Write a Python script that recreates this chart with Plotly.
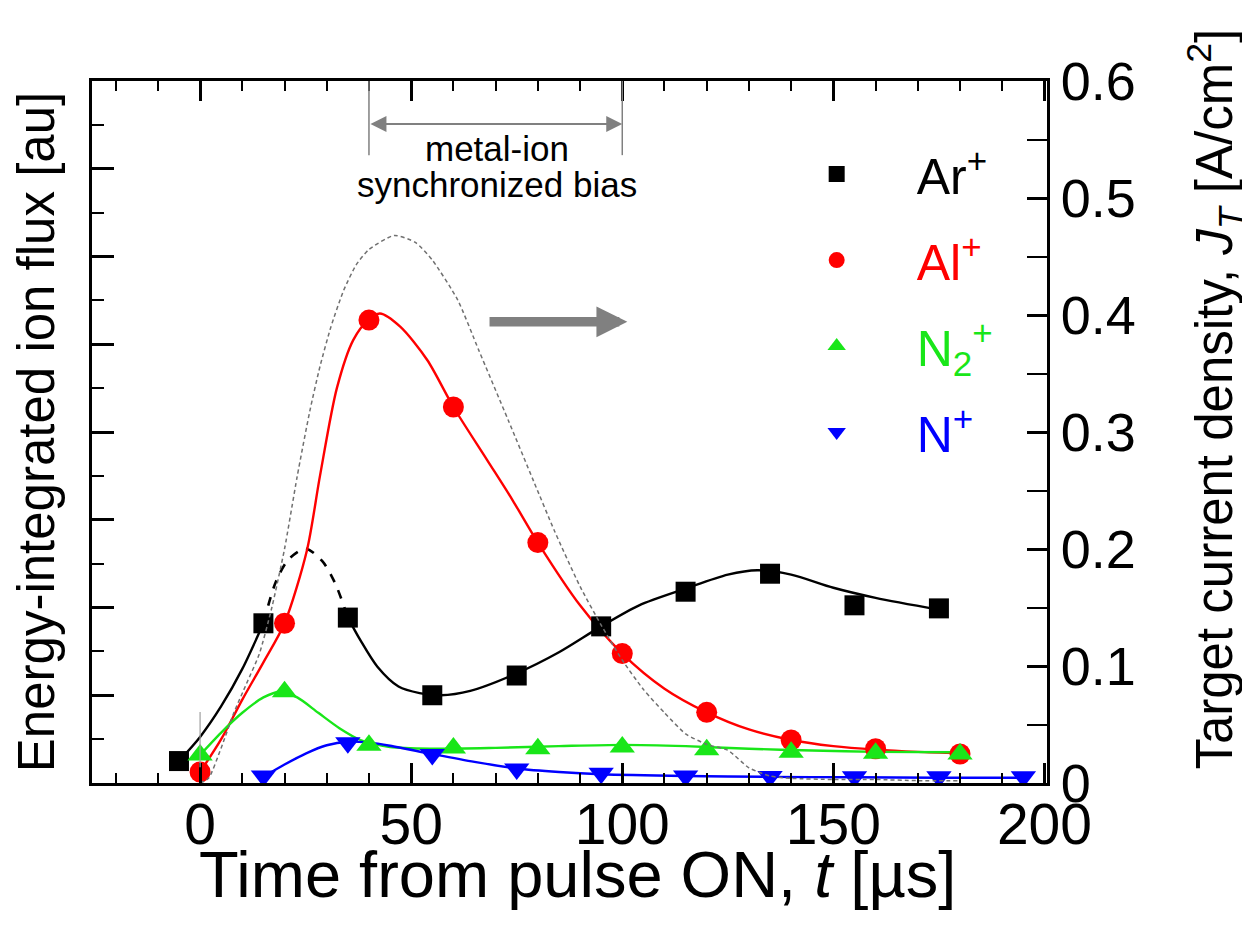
import plotly.graph_objects as go

# ---------------- data ----------------
# measured points (left axis, arbitrary units; 1 unit = one minor tick)
t_ar = [-5, 15, 35, 55, 75, 95, 115, 135, 155, 175]
ar_flux = [0.5, 3.64, 3.77, 2.0, 2.45, 3.57, 4.36, 4.77, 4.05, 3.98]

t_al = [0, 20, 40, 60, 80, 100, 120, 140, 160, 180]
al_flux = [0.25, 3.64, 10.55, 8.57, 5.48, 2.95, 1.61, 0.98, 0.78, 0.66]

t_n2 = [0, 20, 40, 60, 80, 100, 120, 140, 160, 180]
n2_flux = [0.64, 2.08, 0.86, 0.8, 0.78, 0.82, 0.76, 0.7, 0.68, 0.66]

t_n = [15, 35, 55, 75, 95, 115, 135, 155, 175, 195]
n_flux = [0.16, 0.92, 0.65, 0.32, 0.22, 0.16, 0.15, 0.14, 0.14, 0.14]

# fitted guide curves
t_ar_fit_a = [-5, 0, 5, 10, 15]
ar_fit_a = [0.5, 1.05, 1.75, 2.6, 3.64]
t_ar_fit_dash = [15, 18, 21, 25, 29, 32, 35]
ar_fit_dash = [3.64, 4.6, 5.1, 5.34, 5.05, 4.55, 3.77]
t_ar_fit_b = [35, 38, 42, 47, 52, 57, 64, 75, 85, 95, 104, 115, 125, 132, 140, 150, 160, 175]
ar_fit_b = [3.77, 3.25, 2.65, 2.2, 2.05, 2.0, 2.1, 2.5, 2.98, 3.57, 4.05, 4.43, 4.75, 4.85, 4.75, 4.45, 4.22, 3.95]

t_al_fit = [0, 5, 10, 15, 20, 25.3, 28.4, 32.4, 36.3, 39.8, 42.6, 47.4, 53.8, 60, 68, 74, 80, 90, 100,
            110, 120, 130, 140, 150, 160, 170, 180]
al_fit = [0.25, 1.0, 1.9, 2.75, 3.64, 5.3, 7.0, 9.0, 10.1, 10.55, 10.7, 10.4, 9.64, 8.57, 7.36, 6.45, 5.48,
          4.05, 2.95, 2.15, 1.61, 1.22, 0.98, 0.84, 0.76, 0.71, 0.68]

t_n2_fit = [0, 5, 10, 15, 19, 23, 28, 33, 38, 45, 55, 70, 85, 100, 115, 130, 145, 160, 180]
n2_fit = [0.64, 1.15, 1.6, 1.95, 2.08, 1.95, 1.6, 1.25, 0.98, 0.82, 0.78, 0.8, 0.84, 0.87, 0.84, 0.78, 0.74, 0.71, 0.7]

t_n_fit = [15, 20, 25, 30, 35, 40, 45, 55, 65, 75, 85, 95, 115, 135, 155, 175, 195]
n_fit = [0.14, 0.42, 0.67, 0.86, 0.94, 0.92, 0.85, 0.66, 0.48, 0.33, 0.25, 0.2, 0.16, 0.14, 0.13, 0.12, 0.12]

# target current density (right axis, A/cm^2)
t_jt = [0, 2, 5, 8, 11, 14, 17, 20, 23, 26, 28.4, 31, 34, 37, 40, 46, 51, 55, 61, 66, 73, 79, 84,
        90, 95, 100, 105, 110, 115, 120, 125, 130, 135, 140, 150, 160, 170, 180]
jt = [0.0, 0.004, 0.03, 0.06, 0.085, 0.11, 0.15, 0.2, 0.262, 0.318, 0.356, 0.39, 0.421, 0.443, 0.456,
      0.468, 0.462, 0.447, 0.413, 0.37, 0.31, 0.258, 0.215, 0.168, 0.135, 0.105, 0.08, 0.06, 0.042,
      0.033, 0.028, 0.013, 0.006, 0.004, 0.003, 0.003, 0.002, 0.002]

# annotation anchors
bias_window = [40, 100]          # metal-ion synchronized bias interval (µs)
big_arrow_t = [68.2, 101.2]      # arrow pointing to the right-hand axis
pulse_on = 0                     # pulse start marker

FONT = "Liberation Sans, Arial, sans-serif"
BLACK = "#000000"
RED = "#ff0000"
GREEN = "#19e619"
BLUE = "#0000ff"
GRAY = "#808080"

fig = go.Figure()

# current density trace (right axis)
fig.add_trace(go.Scatter(x=t_jt, y=jt, yaxis="y2", mode="lines", showlegend=False,
                         line=dict(color="#707070", width=1.5, dash="4px,3px", shape="spline", smoothing=0.6)))

# guide curves
def fit(x, y, color, dash="solid", width=2.4):
    fig.add_trace(go.Scatter(x=x, y=y, mode="lines", showlegend=False, hoverinfo="skip",
                             line=dict(color=color, width=width, dash=dash, shape="spline", smoothing=0.8)))

fit(t_ar_fit_a, ar_fit_a, BLACK)
fit(t_ar_fit_dash, ar_fit_dash, BLACK, dash="dash", width=2.6)
fit(t_ar_fit_b, ar_fit_b, BLACK)
fit(t_al_fit, al_fit, RED)
fit(t_n2_fit, n2_fit, GREEN)
fit(t_n_fit, n_fit, BLUE)

# measured markers
fig.add_trace(go.Scatter(x=t_ar, y=ar_flux, mode="markers", name="Ar<sup>+</sup>", legendgroup="a",
                         marker=dict(symbol="square", size=20, color=BLACK)))
fig.add_trace(go.Scatter(x=t_al, y=al_flux, mode="markers",
                         name='<span style="color:#ff0000">Al<sup>+</sup></span>', legendgroup="b",
                         marker=dict(symbol="circle", size=21, color=RED)))
fig.add_trace(go.Scatter(x=t_n2, y=n2_flux, mode="markers",
                         name='<span style="color:#19e619">N<sub>2</sub><sup>+</sup></span>', legendgroup="c",
                         marker=dict(symbol="triangle-up", size=22, color=GREEN)))
fig.add_trace(go.Scatter(x=t_n, y=n_flux, mode="markers",
                         name='<span style="color:#0000ff">N<sup>+</sup></span>', legendgroup="d",
                         marker=dict(symbol="triangle-down", size=22, color=BLUE)))

mid = (bias_window[0] + bias_window[1]) / 2 + 0.3
annotations = [
    dict(x=bias_window[1], y=15.02, ax=bias_window[0], ay=15.02, xref="x", yref="y", axref="x", ayref="y",
         text="", showarrow=True, arrowside="end+start", arrowhead=2, startarrowhead=2,
         arrowsize=1.6, startarrowsize=1.6, arrowwidth=2, arrowcolor=GRAY),
    dict(x=mid, y=14.47, xref="x", yref="y", text="metal-ion",
         showarrow=False, font=dict(family=FONT, size=35, color=BLACK)),
    dict(x=mid, y=13.63, xref="x", yref="y", text="synchronized bias",
         showarrow=False, font=dict(family=FONT, size=35, color=BLACK)),
    dict(x=big_arrow_t[1], y=10.51, ax=big_arrow_t[0], ay=10.51, xref="x", yref="y", axref="x", ayref="y",
         text="", showarrow=True, arrowhead=2, arrowsize=0.65, arrowwidth=9.5, arrowcolor=GRAY),
    # axis titles placed as annotations for exact positioning
    dict(x=0.508, y=-0.131, xref="paper", yref="paper", xanchor="center", yanchor="middle",
         text="Time from pulse ON, <i>t</i> [µs]", showarrow=False,
         font=dict(family=FONT, size=65, color=BLACK)),
    dict(x=1.1755, y=0.547, xref="paper", yref="paper", xanchor="center", yanchor="middle", textangle=-90,
         text="Target current density, <i>J</i><sub><i>T</i></sub> [A/cm<sup>2</sup>]", showarrow=False,
         font=dict(family=FONT, size=51, color=BLACK)),
]

shapes = [
    dict(type="line", xref="x", yref="y", x0=b, x1=b, y0=14.31, y1=16, line=dict(color=GRAY, width=1.5))
    for b in bias_window
] + [
    dict(type="line", xref="x", yref="y", x0=pulse_on, x1=pulse_on, y0=0.36, y1=1.62,
         line=dict(color="#a0a0a0", width=1.2))
]

# page body adds an 8 px offset, so the figure is 8 px smaller and margins shifted
fig.update_layout(
    width=1242, height=919,
    margin=dict(l=84, r=203, t=73, b=144, autoexpand=False),
    plot_bgcolor="white", paper_bgcolor="white",
    font=dict(family=FONT, color=BLACK),
    annotations=annotations, shapes=shapes,
    legend=dict(x=0.696, y=0.923, xanchor="left", yanchor="top", bgcolor="rgba(0,0,0,0)",
                font=dict(family=FONT, size=50, color=BLACK), tracegroupgap=18, itemwidth=150),
    xaxis=dict(range=[-25.6, 200.6], tickmode="linear", tick0=0, dtick=50, automargin=False,
               ticks="inside", ticklen=20, tickwidth=2.5, tickcolor=BLACK,
               minor=dict(dtick=10, ticklen=10, tickwidth=2, ticks="inside", tickcolor=BLACK),
               showline=True, linewidth=3, linecolor=BLACK, mirror="ticks",
               showgrid=False, zeroline=False, ticklabelstandoff=-10,
               tickfont=dict(family=FONT, size=57)),
    yaxis=dict(range=[0, 16], tickmode="linear", tick0=0, dtick=2, automargin=False,
               ticks="inside", ticklen=22, tickwidth=2.5, tickcolor=BLACK,
               minor=dict(dtick=1, ticklen=12, tickwidth=2, ticks="inside", tickcolor=BLACK),
               showticklabels=False, showline=True, linewidth=3, linecolor=BLACK,
               showgrid=False, zeroline=False,
               title=dict(text="Energy-integrated ion flux [au]", font=dict(family=FONT, size=51), standoff=19)),
    yaxis2=dict(overlaying="y", side="right", range=[0, 0.6], tickmode="linear", tick0=0, dtick=0.1,
                automargin=False,
                ticks="inside", ticklen=20, tickwidth=2.5, tickcolor=BLACK,
                minor=dict(dtick=0.05, ticklen=20, tickwidth=2, ticks="inside", tickcolor=BLACK),
                showline=True, linewidth=3, linecolor=BLACK,
                showgrid=False, zeroline=False,
                tickfont=dict(family=FONT, size=54)),
)

fig.write_html("out.html")
